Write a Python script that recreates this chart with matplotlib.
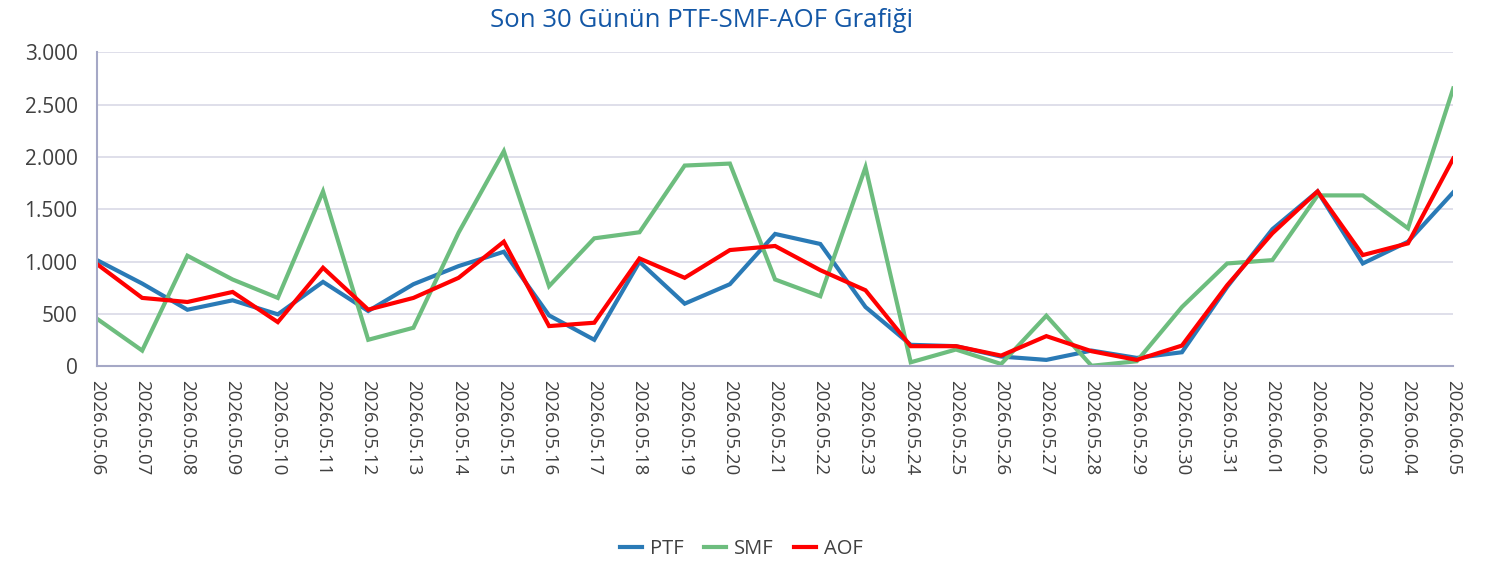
import matplotlib
matplotlib.use("Agg")
import matplotlib.pyplot as plt
from matplotlib.ticker import FuncFormatter

plt.rcParams['font.family'] = ['Open Sans', 'DejaVu Sans']

tarihler = ['2026.05.06', '2026.05.07', '2026.05.08', '2026.05.09', '2026.05.10',
            '2026.05.11', '2026.05.12', '2026.05.13', '2026.05.14', '2026.05.15',
            '2026.05.16', '2026.05.17', '2026.05.18', '2026.05.19', '2026.05.20',
            '2026.05.21', '2026.05.22', '2026.05.23', '2026.05.24', '2026.05.25',
            '2026.05.26', '2026.05.27', '2026.05.28', '2026.05.29', '2026.05.30',
            '2026.05.31', '2026.06.01', '2026.06.02', '2026.06.03', '2026.06.04',
            '2026.06.05']

ptf = [1014, 790, 540, 630, 496, 806, 528, 784, 957, 1094,
       486, 253, 998, 598, 784, 1264, 1168, 566, 205, 192,
       93, 61, 150, 80, 134, 758, 1309, 1670, 982, 1190, 1661]

smf = [454, 150, 1056, 829, 653, 1670, 253, 368, 1277, 2054,
       765, 1222, 1280, 1917, 1936, 829, 669, 1901, 38, 160,
       22, 483, 5, 48, 566, 982, 1014, 1632, 1632, 1318, 2653]

aof = [976, 653, 614, 710, 422, 941, 541, 653, 845, 1190,
       384, 416, 1030, 845, 1110, 1149, 918, 726, 192, 192,
       102, 288, 144, 61, 198, 774, 1270, 1670, 1062, 1174, 1984]

fig = plt.figure(figsize=(14.92, 5.67), dpi=100)
ax = fig.add_axes([0.065, 0.354, 0.909, 0.554])

x = list(range(len(tarihler)))
ax.plot(x, ptf, color='#2A7AB6', lw=3.0, label='PTF', solid_joinstyle='miter')
ax.plot(x, smf, color='#6DBD7E', lw=3.0, label='SMF', solid_joinstyle='miter')
ax.plot(x, aof, color='#FF0000', lw=3.0, label='AOF', solid_joinstyle='miter')

ax.set_xlim(0, len(tarihler) - 1)
ax.set_ylim(0, 3000)
ax.set_yticks(range(0, 3001, 500))
ax.yaxis.set_major_formatter(FuncFormatter(lambda v, p: f'{int(v):,}'.replace(',', '.')))
ax.set_xticks(x)
ax.set_xticklabels(tarihler, rotation=-90, fontsize=13.5, color='#404040')
ax.tick_params(axis='y', labelsize=15, colors='#404040', length=0, pad=14)
ax.tick_params(axis='x', length=0, pad=10)

ax.grid(axis='y', color='#DCDCE8', lw=1.3)
ax.set_axisbelow(True)
for s in ['top', 'right']:
    ax.spines[s].set_visible(False)
for s in ['left', 'bottom']:
    ax.spines[s].set_color('#A5A8C6')
    ax.spines[s].set_linewidth(1.5)

fig.text(0.47, 0.963, 'Son 30 Günün PTF-SMF-AOF Grafiği', ha='center', va='center',
         fontsize=18.5, color='#1357A6')

fig.legend(loc='center', bbox_to_anchor=(0.497, 0.031), ncol=3, frameon=False,
           fontsize=14.5, handlelength=1.1, handletextpad=0.4, columnspacing=1.0,
           labelcolor='#404040')

fig.savefig('out.png', dpi=100)
